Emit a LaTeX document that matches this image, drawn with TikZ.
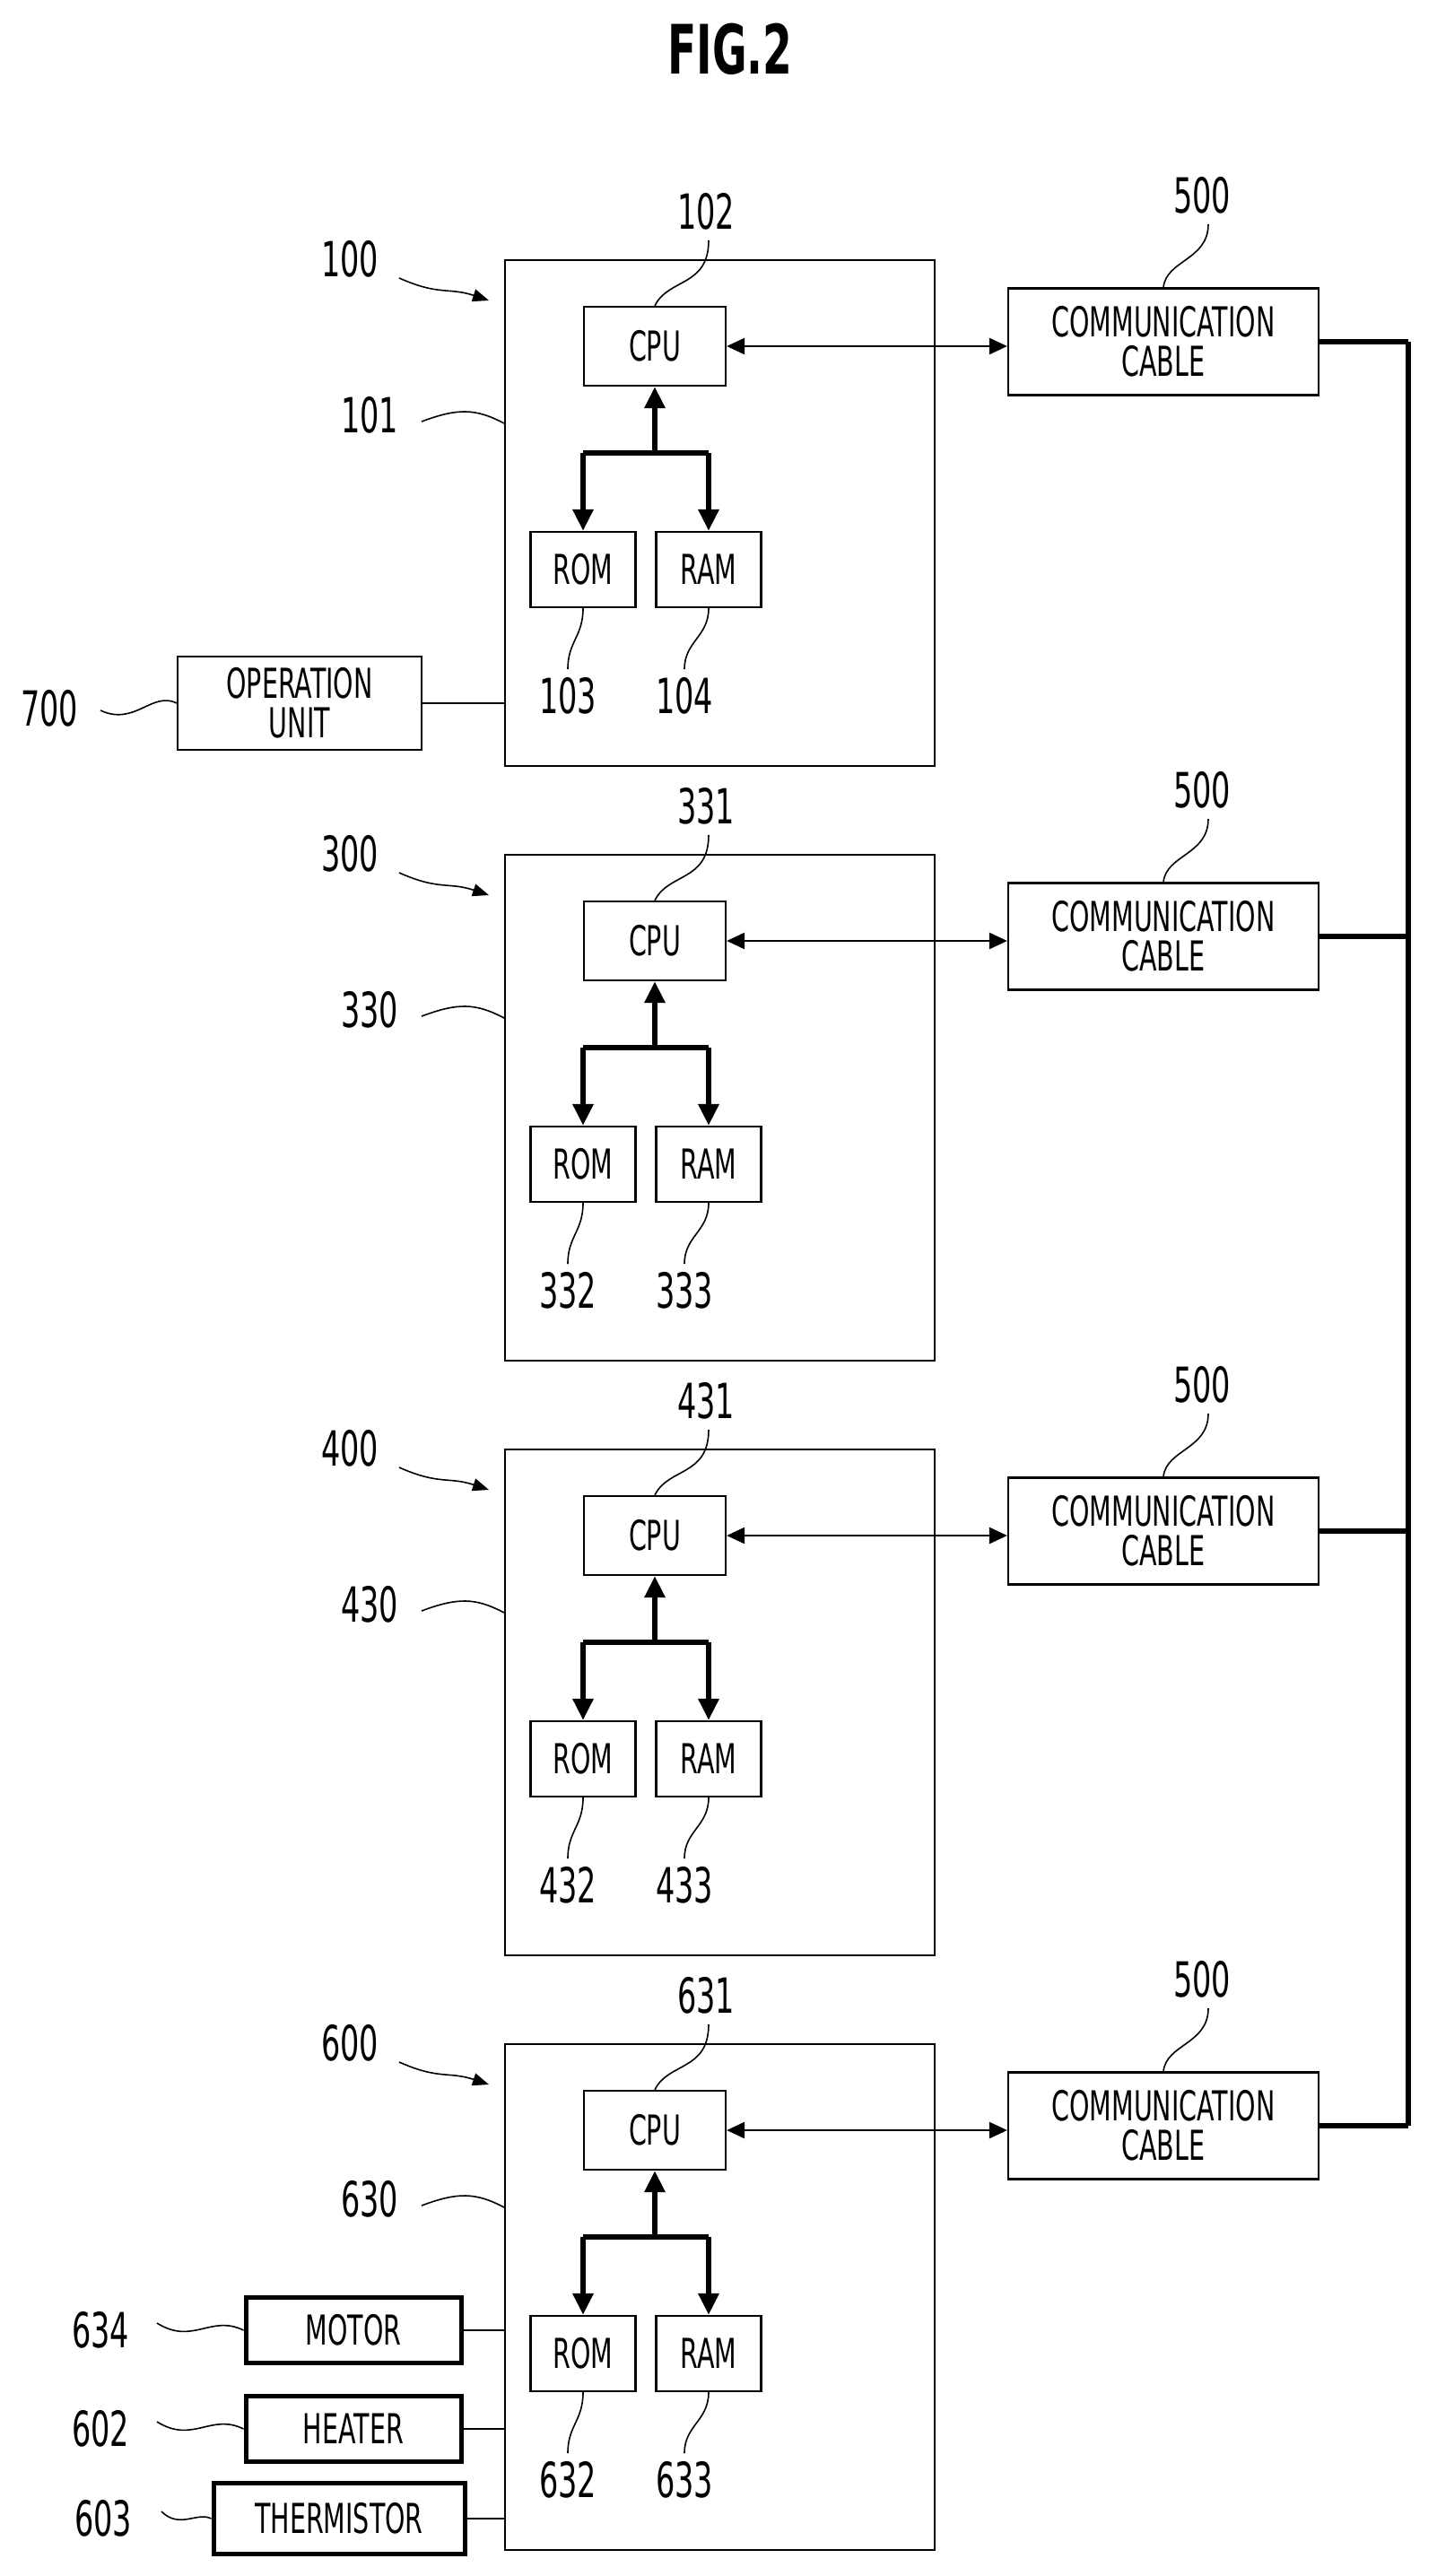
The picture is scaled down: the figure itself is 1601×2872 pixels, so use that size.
\documentclass[tikz,border=0pt]{standalone}
\usepackage{fontspec}
\setmainfont{DejaVu Sans}[FakeStretch=0.62]
\usetikzlibrary{arrows.meta}
\begin{document}
\begin{tikzpicture}[x=1pt,y=-1pt,
 box/.style={draw,line width=2.2pt,inner sep=0pt,align=center,font=\fontsize{46}{44}\selectfont},
 thickbox/.style={box,line width=5pt},
 lbl/.style={font=\fontsize{54}{56}\selectfont},
 lead/.style={line width=1.6pt},
 bus/.style={line width=6pt},
 tip/.style={-{Triangle[length=24pt,width=22pt]}}]
\useasboundingbox (0,0) rectangle (1601,2872);
\node[font=\fontsize{76}{78}\selectfont\bfseries] (title) at (814,55) {FIG.2};
\foreach \i/\a/\b/\c/\d/\e [count=\k from 0] in {1/100/101/102/103/104,3/300/330/331/332/333,4/400/430/431/432/433,6/600/630/631/632/633}{
 \begin{scope}[yshift=-\k*663]
 \node[box,minimum width=479pt,minimum height=564pt,anchor=north west] (blk\i) at (562,289) {};
 \node[box,minimum width=158pt,minimum height=88pt] (cpu\i) at (730,386) {CPU};
 \node[box,minimum width=117pt,minimum height=84pt] (rom\i) at (650,635) {ROM};
 \node[box,minimum width=117pt,minimum height=84pt] (ram\i) at (790,635) {RAM};
 \node[box,minimum width=346pt,minimum height=119pt] (cab\i) at (1297,381) {COMMUNICATION\\CABLE};
 \coordinate (j\i) at (730,505);
 \coordinate (jl\i) at (650,505);
 \coordinate (jr\i) at (790,505);
 \draw[bus,tip] (j\i) -- (cpu\i.south);
 \draw[bus] (jl\i) -- (jr\i);
 \draw[bus,tip] (jl\i) -- (rom\i.north);
 \draw[bus,tip] (jr\i) -- (ram\i.north);
 \draw[line width=2.5pt,{Triangle[length=20pt,width=18pt]}-{Triangle[length=20pt,width=18pt]}] (cpu\i.east) -- (cpu\i.east -| cab\i.west);
 \node[lbl] (la\i) at (390,289) {\a};
 \coordinate (pa\i) at (545,335);
 \draw[lead,-{Triangle[length=18pt,width=14pt]}] (445,310) .. controls (490,330) and (500,320) .. (pa\i);
 \node[lbl] (lb\i) at (412,463) {\b};
 \draw[lead] (470,470) .. controls (510,455) and (530,455) .. (blk\i.west |- 0,472);
 \node[lbl] (lc\i) at (787,236) {\c};
 \draw[lead] (790,268) .. controls (790,320) and (745,310) .. (cpu\i.north);
 \node[lbl] (l5\i) at (1340,218) {500};
 \draw[lead] (1347,250) .. controls (1347,290) and (1300,290) .. (cab\i.north);
 \node[lbl] (ld\i) at (633,776) {\d};
 \draw[lead] (rom\i.south) .. controls (650,710) and (633,715) .. (633,746);
 \node[lbl] (le\i) at (763,776) {\e};
 \draw[lead] (ram\i.south) .. controls (790,710) and (763,715) .. (763,746);
 \end{scope}
}
\coordinate (bt) at (1570,381);
\coordinate (bb) at (1570,2370);
\foreach \i in {1,3,4,6} \draw[bus] (cab\i.east) -- (cab\i.east -| bt);
\draw[bus] (bt) -- (bb);
\node[box,minimum width=272pt,minimum height=104pt] (op) at (334,784) {OPERATION\\UNIT};
\draw[line width=2.2pt] (op.east) -- (op.east -| blk1.west);
\node[lbl] (l700) at (55,790) {700};
\draw[lead] (112,792) .. controls (150,810) and (170,770) .. (op.west);
\node[thickbox,minimum width=240pt,minimum height=73pt] (mot) at (394,2598) {MOTOR};
\node[thickbox,minimum width=240pt,minimum height=73pt] (hea) at (394,2708) {HEATER};
\node[thickbox,minimum width=280pt,minimum height=79pt] (the) at (378,2808) {THERMISTOR};
\foreach \n in {mot,hea,the} \draw[line width=2.2pt] (\n.east) -- (\n.east -| blk6.west);
\node[lbl] (l634) at (112,2598) {634};
\node[lbl] (l602) at (112,2708) {602};
\node[lbl] (l603) at (115,2808) {603};
\draw[lead] (175,2590) .. controls (215,2615) and (235,2580) .. (mot.west);
\draw[lead] (175,2700) .. controls (215,2725) and (235,2690) .. (hea.west);
\draw[lead] (180,2800) .. controls (200,2820) and (220,2800) .. (the.west);
\end{tikzpicture}
\end{document}
